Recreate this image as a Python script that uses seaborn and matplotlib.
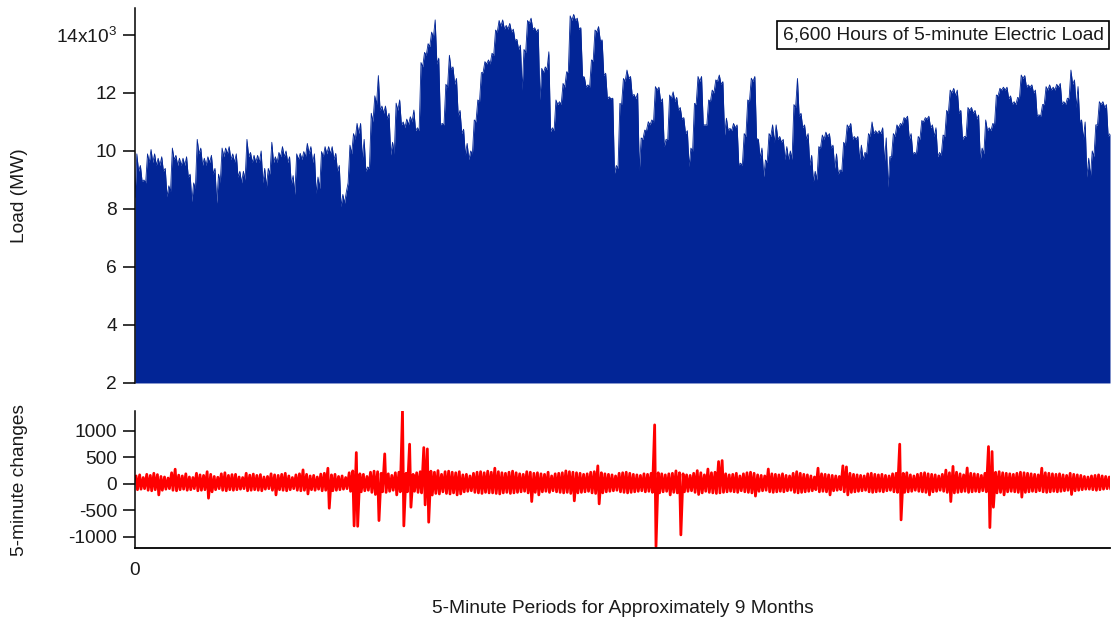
import numpy as np
import pandas as pd
import matplotlib
matplotlib.use("Agg")
import matplotlib.pyplot as plt
import seaborn as sns

# 275 days (6,600 hours), one value per day.
# load in thousands of MW: daytime peak and the night low before it
load_peak = [
    9.9, 9.5, 9.0, 9.9, 10.05, 9.9, 9.75, 9.8, 9.4, 8.8,
    10.1, 9.85, 9.75, 9.75, 9.8, 9.2, 8.9, 10.4, 10.1, 9.75,
    9.8, 9.85, 9.4, 9.2, 10.1, 10.1, 10.15, 9.9, 9.9, 9.3,
    9.3, 10.4, 9.95, 9.85, 9.85, 10.0, 9.4, 9.4, 10.3, 9.8,
    9.95, 10.15, 10.0, 9.8, 9.15, 9.9, 9.92, 9.98, 10.26, 10.15,
    9.9, 9.1, 9.98, 10.15, 10.15, 10.15, 9.92, 9.5, 8.5, 8.6,
    10.2, 10.6, 10.95, 10.95, 10.4, 9.45, 11.3, 11.9, 12.6, 11.55,
    11.55, 11.3, 10.3, 11.65, 11.76, 11.0, 11.1, 11.18, 11.41, 10.8,
    13.05, 13.4, 13.7, 14.1, 14.52, 13.2, 10.95, 12.3, 13.3, 12.9,
    12.5, 11.4, 10.75, 10.26, 10.0, 11.07, 11.76, 12.7, 13.08, 13.14,
    13.37, 14.17, 14.5, 14.52, 14.33, 14.4, 14.2, 13.85, 13.65, 13.5,
    14.5, 14.58, 14.25, 14.2, 12.85, 12.9, 13.42, 10.8, 11.76, 11.7,
    12.33, 12.73, 14.66, 14.71, 14.58, 14.25, 12.55, 12.28, 13.14, 14.17,
    14.29, 13.83, 12.68, 11.87, 11.82, 9.5, 11.64, 12.5, 12.79, 12.57,
    11.95, 11.99, 10.45, 10.72, 11.01, 11.07, 12.22, 12.2, 11.8, 10.4,
    11.93, 12.04, 11.85, 11.5, 11.15, 10.7, 10.1, 11.64, 12.57, 12.57,
    10.9, 11.76, 12.1, 12.45, 12.62, 12.39, 11.13, 10.78, 10.95, 10.9,
    9.58, 10.6, 11.76, 12.51, 12.57, 10.4, 10.1, 9.69, 10.6, 10.9,
    10.9, 10.5, 10.4, 10.15, 10.0, 11.6, 12.5, 11.3, 10.9, 10.6,
    9.85, 9.3, 10.15, 10.55, 10.65, 10.6, 10.2, 9.9, 9.35, 10.3,
    10.9, 10.95, 10.5, 10.5, 10.2, 9.95, 10.6, 11.0, 10.7, 10.7,
    10.8, 10.45, 9.8, 10.6, 10.9, 10.95, 11.15, 11.2, 10.6, 9.95,
    10.5, 11.05, 11.15, 11.2, 10.9, 10.8, 9.95, 10.55, 11.4, 12.1,
    12.16, 12.1, 11.4, 10.5, 11.5, 11.5, 11.4, 11.24, 10.1, 11.07,
    10.8, 10.95, 11.93, 12.16, 12.2, 12.2, 11.9, 11.7, 11.85, 12.62,
    12.6, 12.28, 12.28, 12.1, 11.25, 11.6, 12.22, 12.28, 12.2, 12.3,
    12.33, 11.7, 11.82, 12.79, 12.45, 12.22, 11.07, 11.0, 9.75, 10.0,
    10.9, 11.7, 11.7, 11.6, 10.6,
]
load_trough = [
    8.4, 9.3, 8.95, 8.9, 9.6, 9.6, 9.5, 9.5, 9.3, 8.42,
    8.6, 9.7, 9.5, 9.5, 9.5, 9.1, 8.25, 8.7, 9.9, 9.5,
    9.5, 9.6, 9.2, 8.2, 8.9, 9.8, 9.9, 9.7, 9.6, 9.1,
    8.9, 9.0, 9.8, 9.6, 9.6, 9.6, 8.9, 8.75, 9.2, 9.6,
    9.6, 9.8, 9.8, 9.6, 8.85, 8.5, 9.7, 9.7, 9.8, 9.9,
    9.6, 8.54, 8.7, 9.8, 9.9, 9.9, 9.7, 9.3, 8.08, 8.2,
    8.9, 9.9, 10.4, 10.6, 9.7, 9.3, 9.4, 11.0, 11.6, 11.4,
    11.3, 11.1, 9.86, 9.9, 11.4, 10.9, 10.8, 10.9, 11.0, 10.7,
    10.7, 12.9, 13.3, 13.6, 13.9, 13.0, 10.9, 10.9, 12.2, 12.8,
    12.3, 11.2, 10.6, 9.86, 9.7, 9.9, 11.0, 11.7, 12.7, 13.0,
    13.0, 13.3, 14.1, 14.3, 14.2, 14.2, 14.1, 13.8, 13.5, 12.1,
    13.4, 14.4, 14.2, 14.1, 11.76, 12.7, 12.8, 10.67, 10.7, 11.6,
    11.6, 12.2, 12.7, 14.5, 14.5, 14.2, 12.57, 12.2, 12.2, 13.1,
    14.1, 13.8, 12.6, 11.8, 11.8, 9.23, 9.4, 11.6, 12.4, 12.5,
    11.9, 11.8, 9.34, 10.4, 10.7, 10.9, 11.0, 12.1, 11.7, 10.15,
    10.4, 11.8, 11.7, 11.4, 11.1, 10.6, 9.46, 10.0, 11.6, 12.4,
    10.9, 10.9, 11.7, 12.0, 12.4, 12.3, 10.55, 10.7, 10.7, 10.8,
    9.52, 9.5, 10.5, 11.7, 12.4, 10.43, 9.75, 9.11, 9.6, 10.5,
    10.3, 10.4, 10.3, 9.7, 9.7, 9.7, 11.5, 11.2, 10.8, 10.4,
    9.5, 8.95, 9.0, 10.1, 10.4, 10.5, 10.1, 9.4, 9.2, 9.3,
    10.2, 10.8, 10.4, 10.4, 9.7, 9.7, 9.9, 10.5, 10.6, 10.6,
    10.6, 9.6, 8.75, 9.8, 10.5, 10.8, 10.9, 11.1, 10.4, 9.9,
    9.9, 10.4, 11.0, 11.1, 10.8, 10.5, 9.8, 9.85, 10.5, 11.3,
    12.0, 11.9, 11.3, 10.4, 10.5, 11.4, 11.3, 11.1, 9.7, 9.9,
    10.7, 10.7, 10.9, 11.9, 12.1, 12.1, 11.8, 11.6, 11.6, 11.8,
    12.5, 12.2, 12.2, 12.0, 11.2, 11.2, 11.6, 12.1, 12.1, 12.1,
    12.2, 11.6, 11.6, 11.8, 12.3, 11.5, 11.0, 10.4, 9.1, 9.1,
    9.8, 10.9, 11.6, 11.5, 10.5,
]

# 5-minute changes (MW): largest rise and largest drop seen in each day
change_max = [
    150, 170, 120, 180, 160, 200, 175, 140, 130, 110,
    210, 277, 165, 150, 190, 130, 120, 200, 170, 160,
    230, 180, 140, 125, 190, 210, 160, 175, 180, 130,
    120, 200, 165, 185, 160, 175, 130, 140, 190, 170,
    160, 180, 200, 150, 120, 170, 190, 264, 180, 150,
    160, 130, 185, 200, 295, 170, 180, 140, 150, 120,
    210, 245, 591, 190, 180, 140, 220, 240, 230, 200,
    566, 190, 160, 210, 220, 1370, 200, 749, 180, 210,
    230, 685, 660, 240, 220, 250, 180, 230, 240, 220,
    210, 230, 170, 180, 150, 200, 220, 230, 210, 240,
    220, 296, 230, 210, 200, 220, 240, 210, 190, 180,
    230, 220, 200, 210, 190, 180, 220, 150, 190, 200,
    210, 245, 230, 220, 210, 200, 180, 190, 220, 230,
    340, 210, 190, 180, 170, 150, 200, 210, 220, 200,
    180, 170, 160, 190, 180, 200, 1113, 210, 190, 170,
    190, 200, 245, 210, 190, 170, 160, 200, 250, 210,
    170, 280, 210, 220, 421, 440, 190, 170, 180, 200,
    150, 190, 210, 220, 200, 170, 160, 150, 280, 190,
    180, 170, 190, 160, 150, 200, 230, 200, 180, 170,
    150, 130, 296, 190, 180, 170, 160, 150, 140, 340,
    320, 200, 180, 170, 160, 150, 190, 200, 180, 170,
    180, 160, 150, 190, 200, 749, 200, 210, 170, 150,
    180, 200, 210, 190, 180, 170, 150, 180, 260, 210,
    330, 220, 190, 170, 300, 200, 190, 180, 160, 200,
    704, 610, 220, 230, 210, 200, 190, 180, 200, 220,
    210, 200, 190, 180, 170, 296, 210, 200, 190, 180,
    190, 170, 160, 200, 180, 170, 160, 140, 130, 150,
    160, 170, 150, 140, 130,
]
change_min = [
    -110, -100, -90, -120, -130, -110, -208, -120, -100, -90,
    -120, -130, -110, -100, -120, -110, -90, -130, -120, -110,
    -270, -150, -110, -90, -120, -130, -110, -120, -110, -100,
    -90, -130, -120, -110, -120, -130, -100, -90, -120, -208,
    -110, -120, -130, -110, -90, -120, -130, -120, -190, -110,
    -120, -100, -130, -120, -459, -130, -120, -110, -100, -90,
    -140, -793, -800, -150, -130, -120, -160, -200, -692, -150,
    -160, -140, -120, -208, -150, -793, -150, -440, -140, -160,
    -170, -396, -723, -210, -180, -190, -150, -180, -190, -170,
    -208, -190, -150, -140, -130, -160, -170, -180, -160, -170,
    -170, -180, -190, -170, -160, -180, -170, -160, -150, -140,
    -170, -333, -160, -208, -150, -140, -160, -130, -150, -160,
    -170, -160, -180, -320, -170, -160, -150, -140, -170, -180,
    -377, -170, -150, -140, -130, -120, -150, -160, -170, -160,
    -150, -140, -130, -150, -140, -160, -1180, -170, -150, -140,
    -208, -160, -170, -962, -150, -140, -130, -160, -200, -170,
    -140, -160, -170, -180, -170, -160, -150, -140, -150, -160,
    -130, -150, -160, -170, -230, -140, -130, -120, -150, -160,
    -150, -140, -150, -130, -120, -160, -170, -160, -150, -140,
    -130, -110, -150, -140, -150, -208, -130, -120, -110, -150,
    -208, -160, -150, -140, -130, -120, -150, -160, -150, -140,
    -150, -130, -120, -150, -160, -679, -160, -150, -140, -120,
    -140, -150, -160, -208, -150, -140, -120, -140, -160, -333,
    -170, -160, -150, -140, -160, -150, -140, -150, -130, -150,
    -824, -440, -170, -160, -208, -150, -140, -150, -160, -250,
    -160, -150, -140, -150, -130, -150, -160, -150, -140, -150,
    -140, -130, -120, -200, -130, -120, -110, -100, -100, -110,
    -120, -110, -100, -90, -100,
]

PER_DAY = 288  # 5-minute periods in a day
day_start = np.arange(len(load_peak)) * PER_DAY

load = pd.DataFrame({
    "period": np.concatenate([day_start, day_start + 150]),
    "load": np.concatenate([load_trough, load_peak]),
}).sort_values("period")

changes = pd.DataFrame({
    "period": np.concatenate([day_start + 90, day_start + 200]),
    "change": np.concatenate([change_max, change_min]),
}).sort_values("period")

sns.set_theme(style="ticks")
plt.rcParams["font.family"] = ["Liberation Sans", "DejaVu Sans"]
plt.rcParams["mathtext.fontset"] = "custom"
plt.rcParams["mathtext.rm"] = "Liberation Sans"
plt.rcParams["axes.unicode_minus"] = False

blue = "#022596"
ink = "#1a1a1a"
fs = 13.8

fig = plt.figure(figsize=(11.12, 6.2), dpi=100)
ax1 = fig.add_axes([0.1214, 0.3823, 0.8768, 0.6048])
ax2 = fig.add_axes([0.1214, 0.1161, 0.8768, 0.2210])

# top: filled load
ax1.fill_between(load["period"], 2, load["load"], color=blue, lw=0)
sns.lineplot(data=load, x="period", y="load", ax=ax1, color=blue,
             lw=0.6, estimator=None, sort=False)
xmax = load["period"].max()
ax1.set_xlim(0, xmax)
ax1.set_ylim(2, 14.93)
ax1.set_yticks([2, 4, 6, 8, 10, 12, 14])
ax1.set_yticklabels(["2", "4", "6", "8", "10", "12", r"14x10$^\mathregular{3}$"])
ax1.set_xticks([])
ax1.set_xlabel("")
ax1.set_ylabel("Load (MW)", fontsize=fs, color=ink, va="center")
ax1.yaxis.set_label_coords(-0.1185, 0.5)
for s in ["top", "right", "bottom"]:
    ax1.spines[s].set_visible(False)

ax1.text(0.9933, 0.95, "6,600 Hours of 5-minute Electric Load",
         transform=ax1.transAxes, ha="right", va="top", fontsize=fs, color=ink,
         bbox=dict(boxstyle="square,pad=0.3", fc="white", ec="black", lw=1.2))

# bottom: 5-minute changes
sns.lineplot(data=changes, x="period", y="change", ax=ax2, color="red",
             lw=2.0, estimator=None, sort=False)
ax2.set_xlim(0, xmax)
ax2.set_ylim(-1210, 1375)
ax2.set_yticks([-1000, -500, 0, 500, 1000])
ax2.set_xticks([0])
ax2.set_ylabel("5-minute changes", fontsize=fs, color=ink, va="center")
ax2.yaxis.set_label_coords(-0.1185, 0.5)
ax2.set_xlabel("5-Minute Periods for Approximately 9 Months", fontsize=fs,
               color=ink, labelpad=15)
for s in ["top", "right"]:
    ax2.spines[s].set_visible(False)

for ax in (ax1, ax2):
    ax.spines["left"].set_color("black")
    ax.spines["left"].set_linewidth(1.1)
    ax.tick_params(axis="y", length=8.5, width=1.1, color="black",
                   labelsize=fs, labelcolor=ink, pad=4.5)
ax2.spines["bottom"].set_color("black")
ax2.spines["bottom"].set_linewidth(1.3)
ax2.tick_params(axis="x", length=0, pad=10, labelsize=fs, labelcolor=ink)

fig.savefig("out.png", dpi=100)
